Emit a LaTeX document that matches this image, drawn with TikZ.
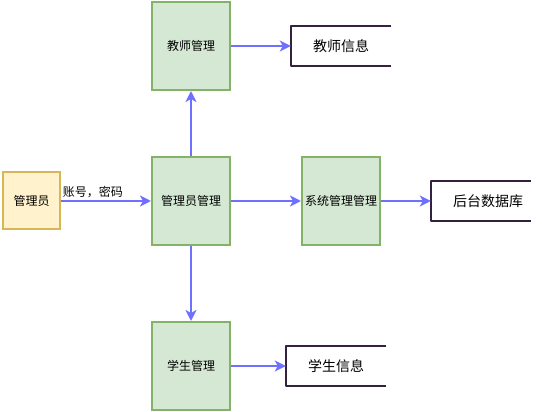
\documentclass[tikz,border=0pt]{standalone}
\usepackage{fontspec}
\setmainfont{Noto Sans CJK SC}
\usetikzlibrary{arrows.meta}
\definecolor{procfill}{HTML}{D5E8D4}
\definecolor{procline}{HTML}{82B366}
\definecolor{userfill}{HTML}{FFF2CC}
\definecolor{userline}{HTML}{D6B656}
\definecolor{flowline}{HTML}{7070FF}
\definecolor{storeline}{HTML}{33213F}
\tikzset{procbox/.style={draw=procline, fill=procfill, line width=2pt, minimum width=78pt, minimum height=88pt, inner sep=0pt, font=\fontsize{12}{14}\selectfont}}
\tikzset{userbox/.style={draw=userline, fill=userfill, line width=2pt, minimum width=57pt, minimum height=57pt, inner sep=0pt, font=\fontsize{12}{14}\selectfont}}
\tikzset{storebox/.style={minimum width=100pt, minimum height=40pt, inner sep=0pt, font=\fontsize{14}{16}\selectfont}}
\tikzset{flow/.style={draw=flowline, line width=2pt, -{Stealth[length=11pt, width=11pt, inset=3pt]}}}

\begin{document}
\begin{tikzpicture}[x=1pt, y=-1pt]
    \useasboundingbox (0, 0) rectangle (542, 412);

    \node[userbox] (ADMIN) at (31.5, 201) {管理员};
    \node[procbox] (ADMINMGR) at (191, 201) {管理员管理};
    \node[procbox] (TEACHERMGR) at (191, 46) {教师管理};
    \node[procbox] (STUDENTMGR) at (191, 366) {学生管理};
    \node[procbox] (SYSMGR) at (341, 201) {系统管理管理};

    \node[storebox] (TEACHERINFO) at (341, 46) {教师信息};
    \node[storebox] (DB) at (481, 201) {\hspace*{14pt}后台数据库};
    \node[storebox] (STUDENTINFO) at (336, 366) {学生信息};

    % open-ended stores
    \foreach \s in {TEACHERINFO, DB, STUDENTINFO}
        \draw[storeline, line width=2pt, line join=round]
            (\s.north east) -- (\s.north west) -- (\s.south west) -- (\s.south east);

    \draw[flow] (ADMIN) -- (ADMINMGR)
        node[at start, anchor=south west, inner sep=1pt, yshift=1pt, font=\fontsize{12}{14}\selectfont]{账号，密码};
    \draw[flow] (ADMINMGR) -- (TEACHERMGR);
    \draw[flow] (ADMINMGR) -- (STUDENTMGR);
    \draw[flow] (ADMINMGR) -- (SYSMGR);
    \draw[flow] (TEACHERMGR) -- (TEACHERINFO.west);
    \draw[flow] (SYSMGR) -- (DB.west);
    \draw[flow] (STUDENTMGR) -- (STUDENTINFO.west);
\end{tikzpicture}
\end{document}
